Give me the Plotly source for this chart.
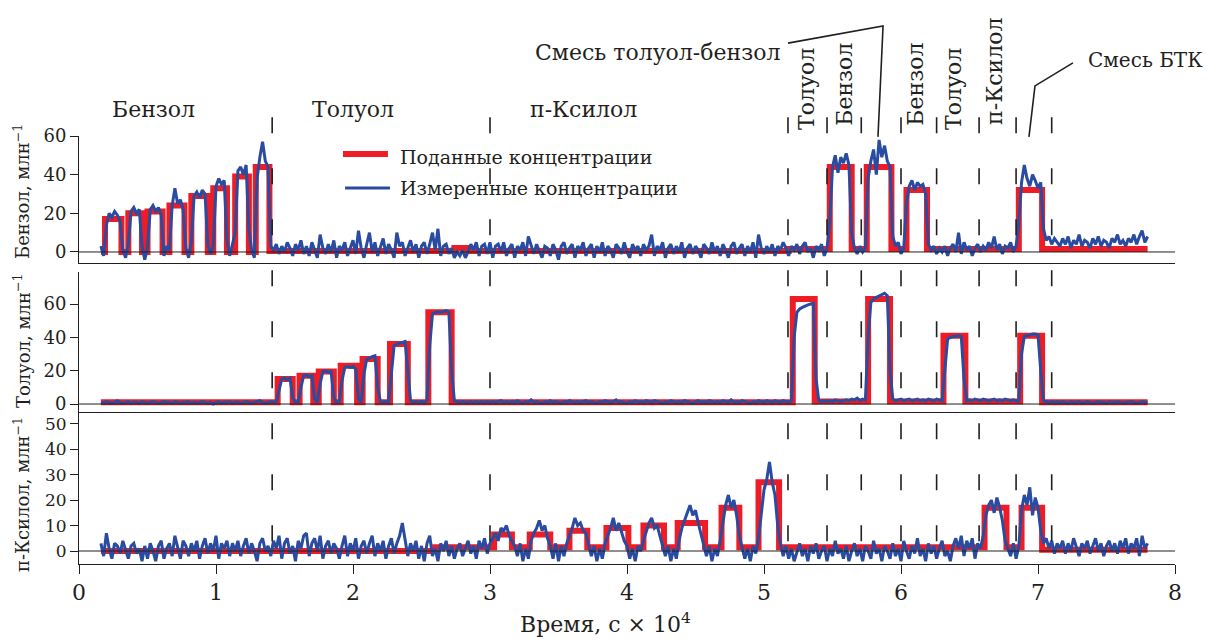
import numpy as np
import plotly.graph_objects as go

# ---------------------------------------------------------------------------
# Time is given in units of 10^4 s.
# Measured (sensor) signals are sampled every DT starting at T0.
# ---------------------------------------------------------------------------
T0 = 0.16
DT = 0.02

benzene_meas = [
    3, -2, 14, 20, 18, 21, 19, 16, 1, -3, 4, 21, 23, 20, 22, 3, -4, 2, 22, 24, 21, 23, 19, -2, 3,
    1, 24, 33, 25, 27, 22, 2, -3, 5, 29, 31, 28, 32, 30, 4, -1, 3, 34, 38, 35, 37, 6, -2, 4, 10,
    42, 44, 40, 45, 12, 1, -3, 38, 49, 57, 47, 44, 3, 1, 4, -1, 3, 0, 5, 2, -2, 4, 1, 6, -1,
    3, -2, 5, 1, -3, 9, 2, -1, 4, 0, 6, -3, 3, 1, 5, -2, 2, 6, -1, 11, 2, -3, 4, 10, 0,
    5, -2, 3, 7, -1, 4, 1, -3, 10, 3, 5, -2, 2, 6, 0, 4, -3, 3, 5, -1, 4, 10, 1, 12, -2,
    3, 4, -1, 2, -3, 0, -2, 1, -3, 0, 4, 1, 5, -2, 3, 4, -1, 5, -3, 3, 4, 0, 5, -2, 2,
    4, -3, 3, 1, 5, -2, 8, 3, -1, 4, 0, -3, 3, 2, -2, 4, 1, -4, 3, 5, -1, 2, 4, -3, 3,
    1, 5, -2, 2, 4, -3, 3, 0, 5, -2, 3, 1, -3, 4, 2, -1, 5, 0, -3, 4, 1, 3, -2, 4, 1,
    3, 9, -2, 3, 1, 5, -3, 2, 4, -1, 3, 0, 5, -3, 2, 4, -1, 3, 1, -3, 4, 2, -1, 5, 0,
    3, -2, 4, 1, -3, 3, 5, -1, 2, 4, -2, 3, 0, 5, -3, 9, 2, -1, 3, 0, 4, -2, 3, 1, 5,
    2, -2, 3, 1, 4, -1, 3, 5, 0, 2, -3, 3, 1, 4, -2, 2, 15, 44, 50, 41, 49, 46, 51, 45, 10,
    2, -1, 3, 0, 2, 38, 47, 53, 40, 58, 49, 55, 47, 44, 8, 3, 5, -1, 2, 25, 34, 37, 32, 36, 34,
    35, 30, 4, 1, 3, -1, 2, 0, 3, -2, 2, 4, 0, 10, -1, 5, 1, 3, -2, 2, 4, 0, 3, 1, 5,
    2, 8, 1, 4, -1, 3, 2, 5, 0, 3, 15, 36, 45, 38, 34, 40, 37, 33, 36, 12, 6, 8, 4, 7, 5,
    3, 7, 4, 8, 2, 6, 4, 9, 3, 6, 5, 2, 7, 4, 8, 3, 6, 5, 2, 7, 5, 9, 4, 6, 3,
    7, 5, 9, 4, 8, 11, 5, 8,
]

toluene_meas = [
    1, 0.5, 1.5, 1, 0.5, 1, 2, 1, 0.5, 1, 1.5, 0.5, 1, 1, 0.5, 1.5, 1, 0.5, 1, 1.5, 1, 0.5, 1, 1.5, 1,
    1, 0.5, 1.5, 1, 0.5, 1, 1, 1.5, 0.5, 1, 0.5, 1, 1.5, 1, 0.5, 1, 0, 1, 1.5, 0.5, 1, 1, 1.5, 0.5, 1,
    1, 0.5, 1, 1.5, 1, 0.5, 1, 1.5, 2, 1, 0.5, 1, 1.5, 1, 1.5, 8, 15, 15.5, 14.5, 15.5, 4, 1, 1.5, 10, 17,
    17.5, 16.5, 17, 3, 1, 12, 19.5, 20, 19, 19.5, 4, 1, 1.5, 14, 22, 22.5, 22, 22.5, 21, 3, 1, 18, 27, 27.5, 28.5,
    29, 10, 1.5, 1, 1.5, 1, 20, 35, 36, 36.5, 37, 37.5, 20, 2, 1, 1.5, 1, 1.5, 1, 2, 35, 54, 55, 55.5, 55,
    55.5, 56, 55, 20, 2, 1.5, 1, 1.5, 1, 1, 1.5, 1, 1.5, 1, 1.5, 1, 1.5, 1, 1.5, 1, 1.5, 2, 1, 1.5, 1,
    1.5, 1, 2, 1, 0.5, 1.5, 1, 2.5, 1, 1.5, 1, 0.5, 1.5, 1, 2, 1, 1.5, 1, 0.5, 1.5, 1, 2, 1.5, 1, 1.5,
    1, 1.5, 2, 1, 1.5, 1, 0.5, 1.5, 1, 2, 1.5, 1, 1.5, 2.5, 1, 1.5, 1, 0.5, 1.5, 1, 2, 1, 1.5, 1, 2,
    1.5, 1, 2, 1.5, 1, 0.5, 1.5, 1, 2, 1.5, 1, 1.5, 1, 2, 1.5, 1, 0.5, 1.5, 2, 1, 1.5, 1, 2, 1.5, 1,
    1.5, 1, 2, 1.5, 1, 2.5, 1, 1.5, 1, 2, 1.5, 1, 0.5, 1.5, 1, 2, 1.5, 1, 2, 1.5, 1, 2, 1.5, 1, 2,
    1.5, 1, 2, 40, 55, 57, 58, 59, 59.5, 60, 60.5, 15, 2, 1.5, 2, 1.5, 2, 1.5, 2.5, 2, 1.5, 2, 2.5, 2, 3,
    2.5, 3.5, 2, 3, 2.5, 40, 61, 63, 64, 65, 66, 66.5, 65, 20, 3, 2, 2.5, 3, 2, 2.5, 3, 2, 2.5, 3, 2,
    2.5, 2, 3, 2.5, 2, 3, 2.5, 2, 20, 39, 40, 40.5, 40.5, 41, 40.5, 15, 2, 2.5, 2, 3, 2.5, 2, 3, 2.5, 2,
    2.5, 3, 2, 2.5, 2, 3, 2.5, 2, 2.5, 2, 2, 30, 40.5, 41, 41.5, 42, 42, 41.5, 20, 2, 1.5, 1, 1.5, 1, 1.5,
    1, 1.5, 1, 0.5, 1.5, 1, 1, 1.5, 0.5, 1, 1.5, 1, 0.5, 1, 1.5, 1, 1, 0.5, 1.5, 1, 1, 1.5, 1, 0.5, 1,
    1, 1.5, 1, 0.5, 1, 1.5, 1, 1,
]

xylene_meas = [
    3, -2, 7, 1, -3, 3, 2, -1, 4, 0, -3, 2, 3, -1, 1, -4, 2, -3, 3, 0, -4, 2, 4, -3, 1,
    3, -2, 6, 1, -3, 4, 2, -2, 3, 0, 4, -3, 2, 5, -1, 3, 0, 6, -3, 3, 1, 4, -2, 3, 0,
    4, -2, 2, 5, -1, 3, 0, -4, 3, 5, 0, 2, -2, 4, 1, 6, -3, 3, 5, -1, 2, -4, 4, 1, 6,
    7, -2, 3, 5, 0, 6, -3, 2, 4, -1, 3, 1, -3, 2, 6, -2, 3, 0, 5, -3, 2, 4, -1, 3, 6,
    -2, 3, 0, 4, -3, 2, 5, -1, 3, 6, 11, 4, -2, 3, 0, 4, -3, 2, -4, 3, 6, -2, 1, -4, 3,
    0, 4, -2, 2, -3, 1, 3, -2, 1, 4, -1, 2, -3, 4, 1, 5, -1, 3, 5, 7, 4, 9, 8, 10, 6,
    4, 2, -2, 3, -4, 1, -3, 4, 7, 9, 12, 8, 10, 5, 2, -3, 3, -4, 2, -2, 3, 6, 9, 13, 10,
    11, 8, 7, 3, -2, 2, -4, 1, -3, 3, 6, 9, 13, 8, 11, 7, 4, 2, -3, 1, -4, 2, 0, 4, 8,
    11, 13, 9, 10, 6, 3, -2, 2, -4, 1, -3, 4, 9, 12, 15, 18, 14, 16, 11, 7, 3, -2, 2, -4, 1,
    -2, 4, 12, 18, 22, 17, 20, 14, 6, 2, -3, 1, -4, 2, -1, 5, 15, 24, 28, 35, 27, 22, 10, 3, -2,
    2, -3, 1, -4, 0, 3, -2, 1, -4, 2, -1, 3, -3, 0, 2, -4, 1, -2, 4, -1, 1, -3, 2, -4, 0,
    3, -2, 1, -4, 2, 0, -3, 4, -1, 1, -4, 2, 0, -3, 3, -2, 1, -4, 4, 0, -3, 2, -1, 5, -2,
    1, -4, 3, -1, 2, -3, 1, 4, -2, 0, -4, 2, 5, 1, 6, -2, 4, 1, 5, -3, 3, 1, 6, 14, 18,
    20, 15, 21, 17, 12, 4, 1, -2, 3, -3, 2, 16, 22, 18, 25, 14, 21, 17, 8, 3, 5, 1, 4, -1, 3,
    1, 4, -1, 3, 0, 5, 1, -2, 3, 1, 4, -1, 2, 5, 0, 3, -2, 2, 4, 0, 3, -1, 4, 1, 5,
    -1, 3, 1, 5, -2, 6, 1, 3,
]

# Supplied (set-point) concentrations: switching times and the level held from each time
benzene_set_t = [0.16, 0.19, 0.31, 0.36, 0.46, 0.50, 0.61, 0.66, 0.77, 0.82, 0.94, 0.98, 1.08,
                 1.14, 1.24, 1.29, 1.39, 2.74, 2.84, 5.18, 5.48, 5.64, 5.75, 5.93, 6.04, 6.19,
                 6.86, 7.03, 7.80]
benzene_set = [0, 17, 0, 20, 0, 21, 0, 24, 0, 29, 0, 33, 0,
               39, 0, 44, 0.5, 2, 0.5, 1.5, 44, 1.5, 44, 1.5, 32, 1.5,
               32, 1.5, 1.5]

toluene_set_t = [0.16, 1.45, 1.56, 1.61, 1.71, 1.75, 1.86, 1.91, 2.03, 2.07, 2.18, 2.27, 2.40,
                 2.55, 2.72, 5.21, 5.37, 5.76, 5.92, 6.31, 6.47, 6.87, 7.03, 7.80]
toluene_set = [1, 15, 1, 17, 1, 19.5, 1, 23, 1, 27, 1, 36, 1,
               55, 1, 63, 1.5, 63, 1.5, 41, 1.5, 41, 1, 1]

xylene_set_t = [0.16, 2.60, 3.03, 3.16, 3.29, 3.44, 3.58, 3.71, 3.85, 4.01, 4.12, 4.27, 4.37,
                4.57, 4.69, 4.82, 4.96, 5.11, 6.61, 6.77, 6.88, 7.03, 7.80]
xylene_set = [0, 1.5, 6.5, 1.5, 6.5, 1.5, 8, 1.5, 9, 1.5, 10, 1.5, 11,
              1.5, 17, 1.5, 27, 1.5, 17, 1.5, 17, 0.5, 0.5]

# Boundaries between the experiment stages (dashed verticals)
stage_bounds = [1.41, 3.0, 5.175, 5.46, 5.71, 6.0, 6.26, 6.57, 6.84, 7.10]

# Stage captions: horizontal ones and rotated ones
stage_labels_h = [("Бензол", 0.547), ("Толуол", 2.0), ("п-Ксилол", 3.68)]
stage_labels_v = [("Толуол", 5.314, 1.110), ("Бензол", 5.591, 1.122), ("Бензол", 6.109, 1.122),
                  ("Толуол", 6.387, 1.110), ("п-Ксилол", 6.686, 1.152)]

x_ticks = [0, 1, 2, 3, 4, 5, 6, 7, 8]

RED = "#ee1c25"
BLUE = "#2a4ca0"
INK = "#231f20"
FONT = "DejaVu Serif"


def times_for(values):
    return T0 + DT * np.arange(len(values))


fig = go.Figure()

panels = [
    (benzene_set_t, benzene_set, benzene_meas, "x", "y"),
    (toluene_set_t, toluene_set, toluene_meas, "x2", "y2"),
    (xylene_set_t, xylene_set, xylene_meas, "x3", "y3"),
]
for st, sv, meas, xa, ya in panels:
    fig.add_trace(go.Scatter(x=st, y=sv, mode="lines", line=dict(color=RED, width=6, shape="hv"),
                             xaxis=xa, yaxis=ya, showlegend=False, hoverinfo="skip"))
    fig.add_trace(go.Scatter(x=times_for(meas), y=meas, mode="lines",
                             line=dict(color=BLUE, width=3),
                             xaxis=xa, yaxis=ya, showlegend=False, hoverinfo="skip"))

axis_common = dict(showgrid=False, zeroline=False, showline=True, linecolor=INK, linewidth=1,
                   tickfont=dict(family=FONT, size=18, color=INK))

fig.update_layout(
    width=1208, height=639,
    margin=dict(l=79, r=33, t=136, b=75),
    paper_bgcolor="white", plot_bgcolor="white",
    font=dict(family=FONT, color=INK),
    showlegend=False,
    xaxis=dict(axis_common, domain=[0, 1], range=[0, 8], anchor="y", ticks="", showticklabels=False),
    xaxis2=dict(axis_common, domain=[0, 1], range=[0, 8], anchor="y2", ticks="", showticklabels=False),
    xaxis3=dict(axis_common, domain=[0, 1], range=[0, 8], anchor="y3", ticks="outside",
                ticklen=9, tickcolor=INK, tickvals=x_ticks,
                tickfont=dict(family=FONT, size=22, color=INK)),
    yaxis=dict(axis_common, domain=[0.7033, 1.0], range=[-5.7, 60], anchor="x",
               ticks="outside", ticklen=8, tickcolor=INK, tickvals=[0, 20, 40, 60]),
    yaxis2=dict(axis_common, domain=[0.3551, 0.6822], range=[-4.8, 79.2], anchor="x2",
                ticks="outside", ticklen=8, tickcolor=INK, tickvals=[0, 20, 40, 60]),
    yaxis3=dict(axis_common, domain=[0.0, 0.3528], range=[-5.1, 54.2], anchor="x3",
                ticks="outside", ticklen=8, tickcolor=INK, tickvals=[0, 10, 20, 30, 40, 50],
                tickfont=dict(family=FONT, size=17, color=INK)),
)

shapes = []
# zero lines drawn over the data
for xa, ya in (("x", "y"), ("x2", "y2"), ("x3", "y3")):
    shapes.append(dict(type="line", xref=xa, yref=ya, x0=0, x1=8, y0=0, y1=0,
                       line=dict(color=INK, width=1), layer="above"))
# stage boundaries
for xb in stage_bounds:
    shapes.append(dict(type="line", xref="x", yref="paper", x0=xb, x1=xb, y0=1.044, y1=-0.01,
                       line=dict(color=INK, width=1.6, dash="16px,35px"), layer="above"))
# leader lines for the mixture captions
shapes.append(dict(type="path", xref="x", yref="paper",
                   path="M 5.175,1.217 L 5.869,1.257 L 5.832,0.998",
                   line=dict(color=INK, width=1.6)))
shapes.append(dict(type="path", xref="x", yref="paper",
                   path="M 7.255,1.171 L 6.978,1.117 L 6.934,0.998",
                   line=dict(color=INK, width=1.6)))
# legend keys
shapes.append(dict(type="line", xref="x", yref="paper", x0=1.927, x1=2.255, y0=0.958, y1=0.958,
                   line=dict(color=RED, width=6)))
shapes.append(dict(type="line", xref="x", yref="paper", x0=1.942, x1=2.27, y0=0.8785, y1=0.8785,
                   line=dict(color=BLUE, width=3)))

annotations = []
for text, xc in stage_labels_h:
    annotations.append(dict(text=text, x=xc, y=1.061, xref="x", yref="paper", showarrow=False,
                            xanchor="center", yanchor="middle",
                            font=dict(family=FONT, size=22, color=INK)))
for text, xc, yc in stage_labels_v:
    annotations.append(dict(text=text, x=xc, y=yc, xref="x", yref="paper", showarrow=False,
                            textangle=-90, xanchor="center", yanchor="middle",
                            font=dict(family=FONT, size=22, color=INK)))
annotations.append(dict(text="Смесь толуол-бензол", x=5.131, y=1.196, xref="x", yref="paper",
                        showarrow=False, xanchor="right", yanchor="middle",
                        font=dict(family=FONT, size=22, color=INK)))
annotations.append(dict(text="Смесь БТК", x=1.027, y=1.178, xref="paper", yref="paper",
                        showarrow=False, xanchor="right", yanchor="middle",
                        font=dict(family=FONT, size=20, color=INK)))
# legend texts
annotations.append(dict(text="Поданные концентрации", x=2.328, y=0.951, xref="x", yref="paper",
                        showarrow=False, xanchor="left", yanchor="middle",
                        font=dict(family=FONT, size=19, color=INK)))
annotations.append(dict(text="Измеренные концентрации", x=2.328, y=0.8785, xref="x", yref="paper",
                        showarrow=False, xanchor="left", yanchor="middle",
                        font=dict(family=FONT, size=19, color=INK)))
# axis titles
for text, yc in (("Бензол, млн<sup>−1</sup>", 0.869), ("Толуол, млн<sup>−1</sup>", 0.521),
                 ("п-Ксилол, млн<sup>−1</sup>", 0.161)):
    annotations.append(dict(text=text, x=-0.052, y=yc, xref="paper", yref="paper", showarrow=False,
                            textangle=-90, xanchor="center", yanchor="middle",
                            font=dict(family=FONT, size=18, color=INK)))
annotations.append(dict(text="Время, с × 10<sup>4</sup>", x=3.84, y=-0.139, xref="x", yref="paper",
                        showarrow=False, xanchor="center", yanchor="middle",
                        font=dict(family=FONT, size=22, color=INK)))

fig.update_layout(shapes=shapes, annotations=annotations)

fig.write_html("out.html")
